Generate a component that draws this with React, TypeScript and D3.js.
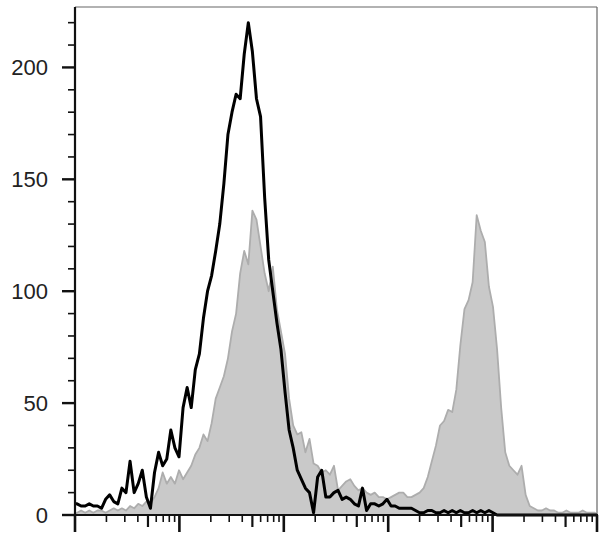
import React from "react";
import * as d3 from "d3";

// Histogram bins (128 bins across 5 log decades of fluorescence)
const binCount = 128;
const decades = 5;

// Black outlined histogram (stained sample)
const stainedCounts = [
  5, 4, 4, 5, 4, 4, 3, 7, 9, 6,
  5, 12, 10, 24, 10, 14, 20, 8, 3, 19,
  28, 22, 25, 38, 30, 26, 48, 57, 48, 65,
  72, 88, 100, 107, 118, 130, 148, 170, 180, 188,
  186, 206, 220, 207, 186, 178, 142, 114, 100, 86,
  74, 55, 38, 30, 20, 16, 12, 10, 1, 17,
  20, 8, 8, 10, 11, 7, 8, 7, 5, 4,
  12, 2, 5, 5, 4, 5, 7, 4, 4, 3,
  3, 3, 3, 2, 1, 1, 2, 2, 1, 1,
  2, 1, 2, 1, 2, 1, 1, 2, 1, 2,
  1, 2, 1, 0, 0, 0, 0, 0, 0, 0,
  0, 0, 0, 0, 0, 0, 0, 0, 0, 0,
  0, 0, 0, 0, 0, 0, 0, 0,
];

// Gray filled histogram (reference sample)
const referenceCounts = [
  1, 2, 1, 2, 1, 2, 2, 1, 2, 3,
  2, 3, 2, 4, 3, 5, 4, 6, 5, 8,
  12, 19, 14, 17, 14, 20, 16, 19, 22, 27,
  30, 36, 33, 41, 52, 57, 62, 70, 82, 90,
  108, 118, 112, 136, 132, 120, 108, 100, 111, 92,
  82, 72, 52, 40, 36, 37, 28, 34, 23, 22,
  19, 20, 18, 22, 11, 13, 15, 16, 13, 11,
  12, 10, 9, 10, 8, 8, 7, 8, 9, 10,
  10, 8, 8, 9, 10, 12, 17, 24, 31, 40,
  42, 47, 46, 56, 76, 92, 96, 104, 134, 127,
  122, 102, 93, 74, 48, 28, 22, 20, 18, 22,
  9, 4, 3, 2, 2, 3, 2, 2, 1, 1,
  2, 1, 1, 1, 2, 1, 1, 1,
];

const yMajorTicks = [0, 50, 100, 150, 200];
const yMinorTicks = [10, 20, 30, 40, 60, 70, 80, 90, 110, 120, 130, 140, 160, 170, 180, 190, 210, 220];
const yTickLabels = ["0", "50", "100", "150", "200"];
const xMinorMultipliers = [2, 3, 4, 5, 6, 7, 8, 9];

const W = 608;
const H = 545;
const left = 75;
const right = 597;
const top = 7;
const bottom = 515;

export default function App() {
  const x = d3.scaleLinear().domain([0, binCount]).range([left, right]);
  const xLog = d3.scaleLog().domain([1, Math.pow(10, decades)]).range([left, right]);
  const y = d3.scaleLinear().domain([0, 227]).range([bottom, top]);

  const pts = (arr: number[]) => arr.map((v, i) => [i + 0.5, v] as [number, number]);

  const area = d3
    .area<[number, number]>()
    .x((d) => x(d[0]))
    .y0(y(0))
    .y1((d) => y(d[1]));
  const line = d3
    .line<[number, number]>()
    .x((d) => x(d[0]))
    .y((d) => y(d[1]));

  const refPts: [number, number][] = [[0, 0], ...pts(referenceCounts), [binCount, 0]];
  const stPts: [number, number][] = [[0, stainedCounts[0]], ...pts(stainedCounts), [binCount, 0]];

  const majorX: number[] = [];
  const minorX: { v: number; m: number }[] = [];
  for (let d = 0; d <= decades; d++) {
    majorX.push(Math.pow(10, d));
    if (d < decades) xMinorMultipliers.forEach((m) => minorX.push({ v: m * Math.pow(10, d), m }));
  }

  return (
    <svg width={W} height={H} style={{ position: "absolute", left: 0, top: 0, background: "#fff" }}>
      <rect x={0} y={0} width={W} height={H} fill="#fff" />
      {/* frame top & right */}
      <line x1={left} x2={right} y1={top} y2={top} stroke="#666" strokeWidth={1.2} />
      <line x1={right} x2={right} y1={top} y2={bottom} stroke="#666" strokeWidth={1.2} />
      {/* gray filled histogram */}
      <path d={area(refPts) || ""} fill="#c9c9c9" stroke="#adadad" strokeWidth={1.8} strokeLinejoin="round" />
      {/* black histogram line */}
      <path d={line(stPts) || ""} fill="none" stroke="#000" strokeWidth={3} strokeLinejoin="round" />
      {/* axes */}
      <line x1={left} x2={left} y1={top} y2={bottom + 1} stroke="#111" strokeWidth={2.2} />
      <line x1={left - 1} x2={right + 1} y1={bottom} y2={bottom} stroke="#111" strokeWidth={2.2} />
      {yMajorTicks.map((t, i) => (
        <g key={"ym" + t}>
          <line x1={left - 13} x2={left} y1={y(t)} y2={y(t)} stroke="#111" strokeWidth={2.4} />
          <text
            x={left - 27}
            y={y(t)}
            textAnchor="end"
            dominantBaseline="central"
            fontFamily="Liberation Sans, Arial, sans-serif"
            fontSize={22}
            fill="#222"
          >
            {yTickLabels[i]}
          </text>
        </g>
      ))}
      {yMinorTicks.map((t) => (
        <line key={"yn" + t} x1={left - 7} x2={left} y1={y(t)} y2={y(t)} stroke="#111" strokeWidth={1.6} />
      ))}
      {majorX.map((v) => (
        <line key={"xm" + v} x1={xLog(v)} x2={xLog(v)} y1={bottom} y2={bottom + 17} stroke="#111" strokeWidth={2.6} />
      ))}
      {minorX.map((t) => (
        <line
          key={"xn" + t.v}
          x1={xLog(t.v)}
          x2={xLog(t.v)}
          y1={bottom}
          y2={bottom + (t.m === 5 ? 12 : 7)}
          stroke="#111"
          strokeWidth={t.m === 5 ? 2.2 : 1.6}
        />
      ))}
    </svg>
  );
}
